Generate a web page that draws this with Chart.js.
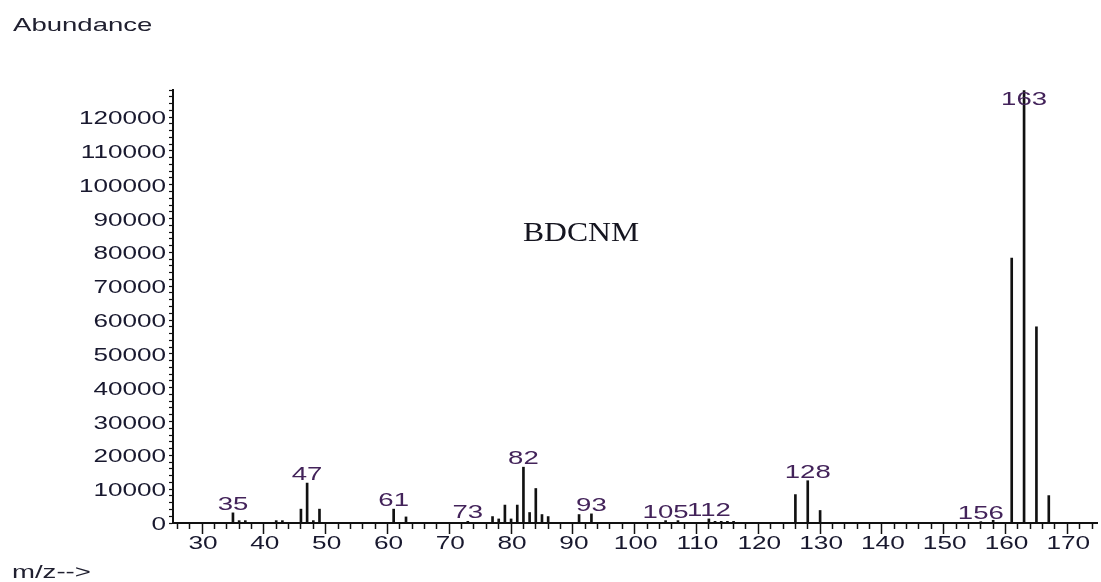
<!DOCTYPE html>
<html>
<head>
<meta charset="utf-8">
<script src="https://cdn.jsdelivr.net/npm/chart.js@4/dist/chart.umd.min.js"></script>
<style>
    body { margin: 0; background: #fff; }
    #contenedor { width: 1101px; height: 582px; position: relative; }
</style>
</head>
<body>
<div id="contenedor"><canvas id="graficoEspectro"></canvas></div>
<script>
// Datos del espectro (m/z y abundancia)
const masas = [35, 36, 37, 42, 43, 46, 47, 48, 49, 61, 63, 73,
               77, 78, 79, 80, 81, 82, 83, 84, 85, 86, 91, 93,
               105, 107, 112, 113, 114, 115, 116, 126, 128, 130,
               156, 158, 161, 163, 165, 167];
const abundancias = [3000, 700, 700, 700, 700, 4100, 11800, 700, 4100, 4100, 1800, 500,
                     1900, 1200, 5300, 1200, 5300, 16500, 3100, 10200, 2500, 1900, 2500, 2700,
                     700, 700, 1200, 500, 500, 500, 500, 8400, 12500, 3700,
                     400, 800, 78300, 127800, 58000, 8100];

// Picos con etiqueta
const masasEtiquetadas = [35, 47, 61, 73, 82, 93, 105, 112, 128, 156, 163];

// Ejes
const rangoX = [25.3, 174.8];
const rangoY = [0, 128000];

const tituloY = "Abundance";
const tituloX = "m/z-->";
const nombreCompuesto = "BDCNM";

const puntos = masas.map((m, i) => ({ x: m, y: abundancias[i] }));

// Texto estirado en horizontal (como en la imagen original)
function textoEstirado(ctx, texto, x, y, fuente, color, align, sx){
    ctx.save();
    ctx.font = fuente;
    ctx.fillStyle = color;
    ctx.textAlign = 'left';
    ctx.textBaseline = 'alphabetic';
    const w = ctx.measureText(texto).width * sx;
    let x0 = x;
    if(align === 'center') x0 = x - w / 2;
    if(align === 'right')  x0 = x - w;
    ctx.translate(x0, y);
    ctx.scale(sx, 1);
    ctx.fillText(texto, 0, 0);
    ctx.restore();
}

const ESTIRA = 1.45;
const colorTicks = '#18182e';
const colorPicos = '#43235a';

const pluginTextos = {
    id: 'textos',
    afterDraw(chart){
        const ctx = chart.ctx;
        const sx = chart.scales.x;
        const sy = chart.scales.y;
        const area = chart.chartArea;

        // Etiquetas del eje Y (cada 10000)
        sy.ticks.forEach(t => {
            if(t.value % 10000 !== 0) return;
            textoEstirado(ctx, String(t.value), 166, sy.getPixelForValue(t.value) + 7,
                '18px "Liberation Sans"', colorTicks, 'right', ESTIRA);
        });

        // Etiquetas del eje X (cada 10)
        sx.ticks.forEach(t => {
            if(t.value % 10 !== 0) return;
            textoEstirado(ctx, String(t.value), sx.getPixelForValue(t.value) + 1, area.bottom + 26,
                '19px "Liberation Sans"', colorTicks, 'center', 1.38);
        });

        // Etiquetas de los picos
        masasEtiquetadas.forEach(m => {
            const i = masas.indexOf(m);
            const px = sx.getPixelForValue(m);
            const py = sy.getPixelForValue(abundancias[i]);
            const base = Math.max(py - 3, area.top + 15);
            textoEstirado(ctx, String(m), px, base, '19px "Liberation Sans"', colorPicos, 'center', ESTIRA);
        });

        // Títulos
        textoEstirado(ctx, tituloY, 13, 31, '19px "Liberation Sans"', '#202030', 'left', ESTIRA);
        textoEstirado(ctx, tituloX, 12, 578, '19px "Liberation Sans"', '#202030', 'left', ESTIRA);
        textoEstirado(ctx, nombreCompuesto, 523, 241, '28px "Liberation Serif"', '#151520', 'left', 1.13);
    }
};

new Chart(document.getElementById('graficoEspectro'), {
    type: 'bar',
    data: {
        datasets: [{
            label: 'Abundancia',
            data: puntos,
            backgroundColor: '#111',
            barThickness: 2
        }]
    },
    options: {
        responsive: true,
        maintainAspectRatio: false,
        animation: false,
        layout: { padding: { top: 90, right: 4, left: 0, bottom: 0 } },
        plugins: {
            legend:  { display: false },
            tooltip: { enabled: false }
        },
        scales: {
            x: {
                type: 'linear',
                min: rangoX[0],
                max: rangoX[1],
                offset: false,
                border: { display: true, color: '#111', width: 2 },
                grid: {
                    offset: false,
                    drawOnChartArea: false,
                    tickLength: 11,
                    tickWidth: 1.5,
                    tickColor: '#111',
                    tickBorderDash: c => (c.tick && c.tick.value % 10 === 0) ? [] : [5, 30]
                },
                ticks: { display: false, stepSize: 2, includeBounds: false },
                afterFit: s => { s.height = 59; }
            },
            y: {
                min: rangoY[0],
                max: rangoY[1],
                border: { display: true, color: '#111', width: 2 },
                grid: {
                    drawOnChartArea: false,
                    tickLength: 4,
                    tickWidth: 1.2,
                    tickColor: '#111'
                },
                ticks: { display: false, stepSize: 2000, includeBounds: false },
                afterFit: s => { s.width = 173; }
            }
        }
    },
    plugins: [pluginTextos]
});
</script>
</body>
</html>
